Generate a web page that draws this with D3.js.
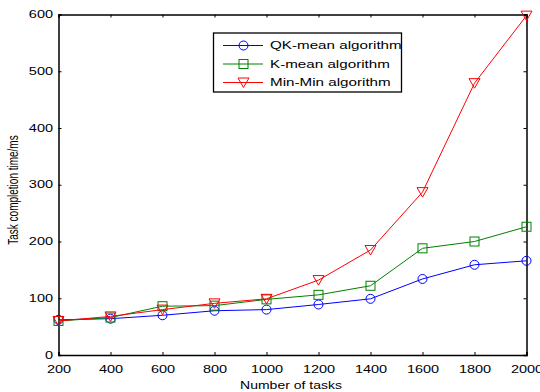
<!DOCTYPE html>
<html><head><meta charset="utf-8">
<script src="https://cdn.jsdelivr.net/npm/d3@7/dist/d3.min.js"></script>
<style>body{margin:0;background:#fff;overflow:hidden}svg{display:block}text{font-family:"Liberation Sans",Arial,sans-serif}</style>
</head><body><svg id="c" width="540" height="392"></svg>
<script>
const tasks = [200,400,600,800,1000,1200,1400,1600,1800,2000];
const qkMean = [62,64,70,78,80,89,99,134,159,166];
const kMean = [60,66,86,87,98,106,122,188,200,226];
const minMin = [60,68,80,91,99,132,185,287,479,598];
const yTicks = [0,100,200,300,400,500,600];
const xTicks = [200,400,600,800,1000,1200,1400,1600,1800,2000];
const seriesNames = ["QK-mean algorithm","K-mean algorithm","Min-Min algorithm"];
const seriesColors = ["#0000ff","#008000","#ff0000"];
const seriesShapes = ["circle","square","triangle"];
const seriesData = [qkMean,kMean,minMin];

(function(){
const svg = d3.select("#c");
const L=58.5,R=526.5,T=14.5,B=355;
const SX = 1.45;
const x = d3.scaleLinear().domain([200,2000]).range([L,R]);
const y = d3.scaleLinear().domain([0,600]).range([B,T]);

svg.append("rect").attr("width",540).attr("height",392).attr("fill","#fff");

const gBottom = svg.append("g").attr("transform",`translate(0,${B})`)
  .call(d3.axisBottom(x).tickValues(xTicks).tickSize(-3).tickPadding(0).tickFormat(d3.format("d")));
const gTop = svg.append("g").attr("transform",`translate(0,${T})`)
  .call(d3.axisTop(x).tickValues(xTicks).tickSize(-3).tickFormat(""));
const gLeft = svg.append("g").attr("transform",`translate(${L},0)`)
  .call(d3.axisLeft(y).tickValues(yTicks).tickSize(-3).tickPadding(6));
const gRight = svg.append("g").attr("transform",`translate(${R},0)`)
  .call(d3.axisRight(y).tickValues(yTicks).tickSize(-3).tickFormat(""));
[gBottom,gTop,gLeft,gRight].forEach(g=>{
  g.select(".domain").attr("stroke","#000").attr("stroke-width",1.5);
  g.selectAll(".tick line").attr("stroke","#000").attr("stroke-width",1);
  g.selectAll("text").attr("font-size",10).attr("fill","#000").attr("font-family","Liberation Sans, Arial, sans-serif");
});
gBottom.selectAll(".tick text").attr("y",18.5).attr("dy",null).attr("transform",`scale(${SX},1)`);
gLeft.selectAll(".tick text").attr("x",-5.5/SX).attr("transform",`scale(${SX},1)`);

function marker(g, shape, cx, cy, color){
  if(shape==="circle") g.append("circle").attr("cx",cx).attr("cy",cy).attr("r",4.5).attr("fill","none").attr("stroke",color).attr("stroke-width",1);
  else if(shape==="square") g.append("rect").attr("x",cx-4.5).attr("y",cy-4.5).attr("width",9).attr("height",9).attr("fill","none").attr("stroke",color).attr("stroke-width",1);
  else g.append("path").attr("d",`M${cx-5.5},${cy-4.5}L${cx+5.5},${cy-4.5}L${cx},${cy+5}Z`).attr("fill","none").attr("stroke",color).attr("stroke-width",1);
}

const line = d3.line().x((d,i)=>x(tasks[i])).y(d=>y(d));
seriesData.forEach((data,s)=>{
  const g = svg.append("g");
  g.append("path").datum(data).attr("d",line).attr("fill","none").attr("stroke",seriesColors[s]).attr("stroke-width",1);
  data.forEach((v,i)=>marker(g,seriesShapes[s],x(tasks[i]),y(v),seriesColors[s]));
});

const lg = svg.append("g");
lg.append("rect").attr("x",213.5).attr("y",33).attr("width",188).attr("height",59).attr("fill","#fff").attr("stroke","#000").attr("stroke-width",1.3);
seriesNames.forEach((n,s)=>{
  const ly = 45.5 + s*18.5;
  lg.append("line").attr("x1",223).attr("x2",263).attr("y1",ly).attr("y2",ly).attr("stroke",seriesColors[s]).attr("stroke-width",1);
  marker(lg,seriesShapes[s],243.5,ly,seriesColors[s]);
  lg.append("text").attr("transform",`translate(270,${ly+3.8}) scale(1.52,1)`).attr("font-size",10).text(n);
});

svg.append("text").attr("transform","translate(291,389) scale(1.4,1)").attr("text-anchor","middle").attr("font-size",10).text("Number of tasks");
svg.append("text").attr("transform","translate(17.5,190) scale(1.4,1) rotate(-90)").attr("text-anchor","middle").attr("font-size",10).text("Task completion time/ms");
})();
</script></body></html>
